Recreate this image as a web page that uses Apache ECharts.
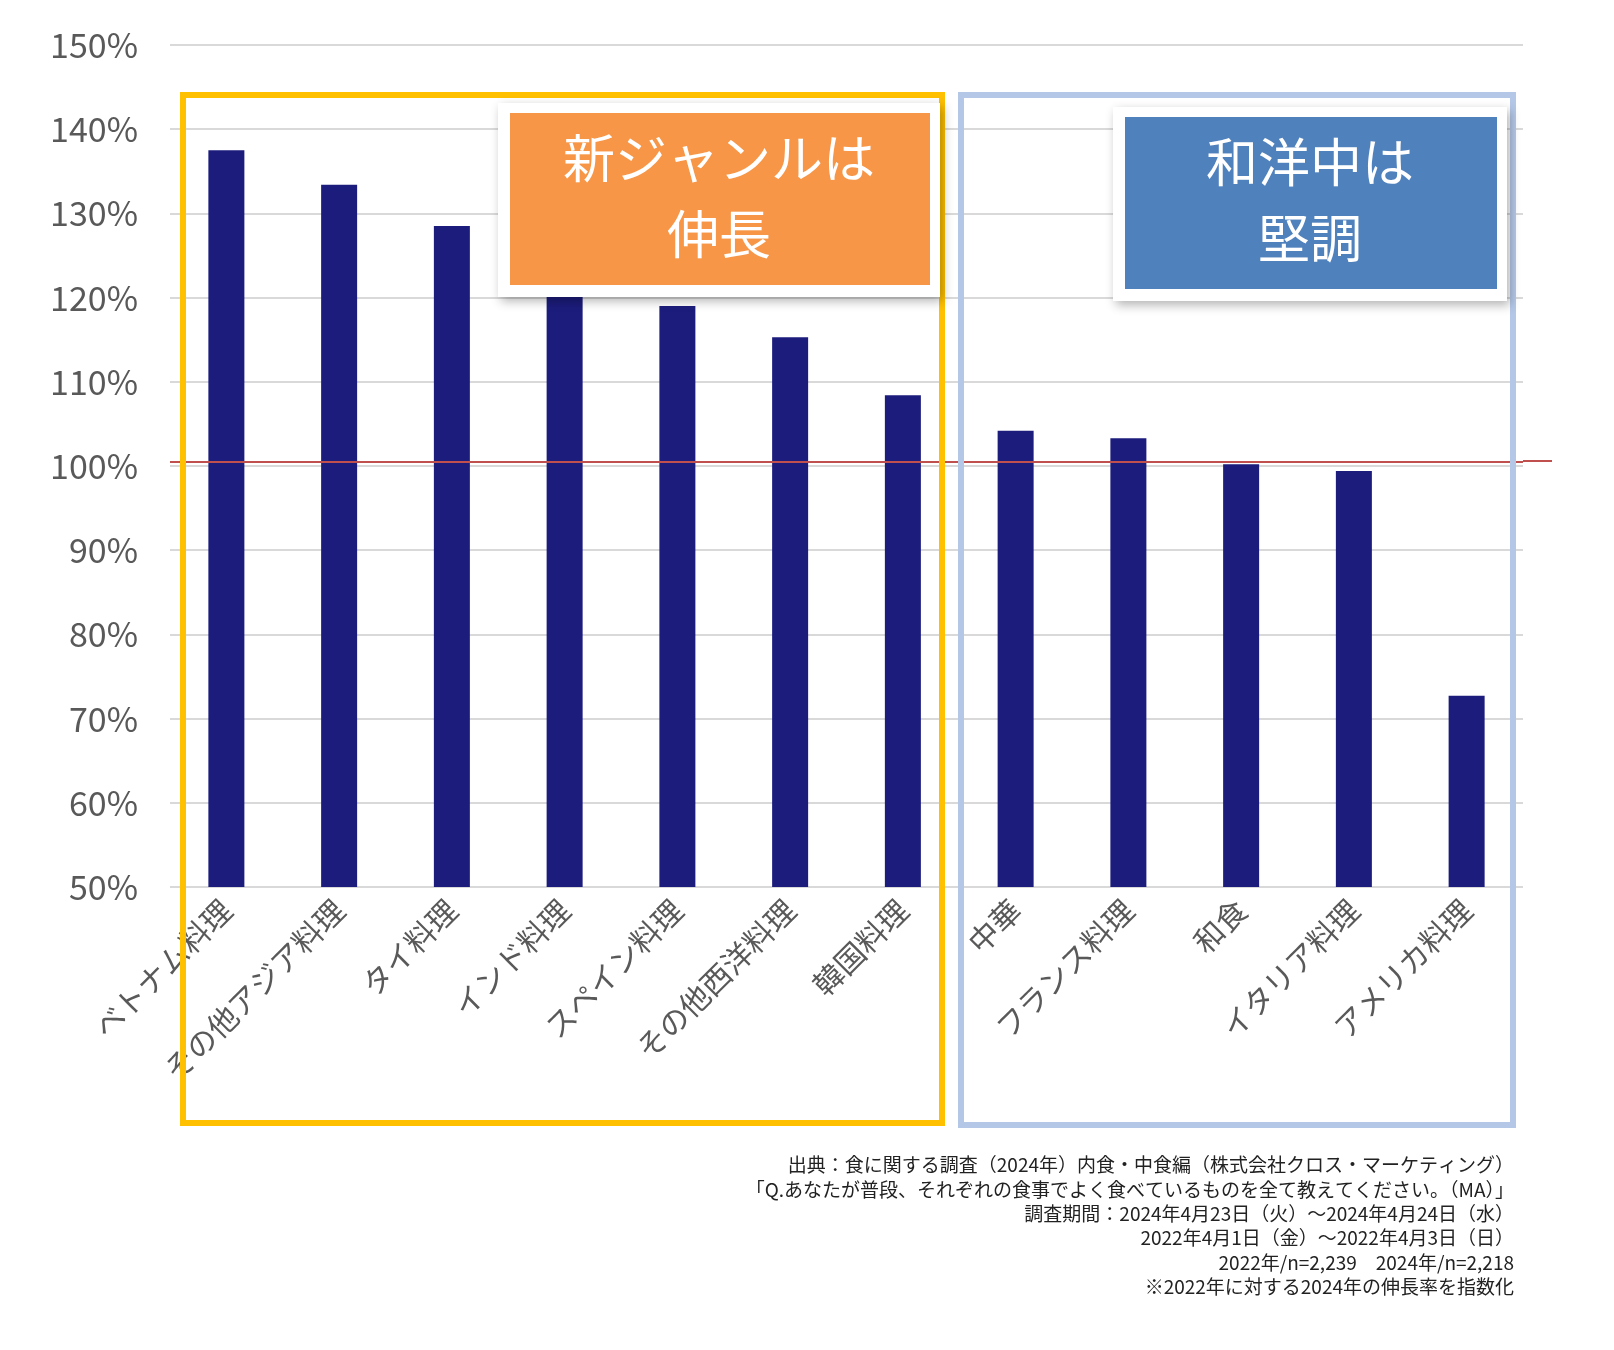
<!DOCTYPE html>
<html><head><meta charset="utf-8">
<script src="https://cdn.jsdelivr.net/npm/echarts@6/dist/echarts.min.js"></script>
<style>html,body{margin:0;background:#fff}#c{width:1614px;height:1350px}</style>
</head><body><div id="c"></div>
<script>
const categories = ['ベトナム料理','その他アジア料理','タイ料理','インド料理','スペイン料理','その他西洋料理','韓国料理','中華','フランス料理','和食','イタリア料理','アメリカ料理'];
const values = [137.5, 133.4, 128.5, 122.0, 119.0, 115.3, 108.4, 104.2, 103.3, 100.2, 99.4, 72.7];
const baseline = 100.5;
const notes = [
  '出典：食に関する調査（2024年）内食・中食編（株式会社クロス・マーケティング）',
  '「Q.あなたが普段、それぞれの食事でよく食べているものを全て教えてください。（MA）」',
  '調査期間：2024年4月23日（火）～2024年4月24日（水）',
  '2022年4月1日（金）～2022年4月3日（日）',
  '2022年/n=2,239　2024年/n=2,218',
  '※2022年に対する2024年の伸長率を指数化'
];
const font = '"Noto Sans CJK JP", "Noto Sans", sans-serif';
const chart = echarts.init(document.getElementById('c'));

function callout(x, y, w, h, color, lines) {
  return [
    {type: 'rect', z: 100, shape: {x: x, y: y, width: w, height: h},
      style: {fill: '#fff', shadowBlur: 10, shadowOffsetX: 3, shadowOffsetY: 4, shadowColor: 'rgba(0,0,0,0.3)'}},
    {type: 'rect', z: 101, shape: {x: x + 12, y: y + 10, width: w - 22, height: h - 22}, style: {fill: color}},
    {type: 'text', z: 102, x: x + w / 2, y: y + h / 2 - 4, style: {text: lines, fill: '#fff', font: '52px ' + font,
      align: 'center', verticalAlign: 'middle', lineHeight: 76}}
  ];
}

const noteItems = notes.map((t, i) => ({
  type: 'text', z: 10, x: 1514, y: 1165 + i * 24.4,
  style: {text: t, fill: '#222', font: '19px ' + font, align: 'right', verticalAlign: 'middle'}
}));

chart.setOption({
  animation: false,
  grid: {left: 170, right: 91, top: 45, bottom: 463},
  xAxis: {
    type: 'category', data: categories,
    axisLine: {show: false}, axisTick: {show: false},
    axisLabel: {rotate: 45, color: '#595959', fontSize: 30, fontFamily: font, margin: 18, interval: 0}
  },
  yAxis: {
    type: 'value', min: 50, max: 150, interval: 10,
    axisLabel: {formatter: '{value}%', color: '#595959', fontSize: 34, fontFamily: font, margin: 32},
    splitLine: {lineStyle: {color: '#d9d9d9', width: 2}}
  },
  series: [{
    type: 'bar', data: values, barWidth: 36,
    itemStyle: {color: '#1c1c7c'},
    markLine: {silent: true, symbol: 'none', label: {show: false},
      lineStyle: {color: '#c0504d', width: 2, type: 'solid'}, data: [{yAxis: baseline}]}
  }],
  graphic: [
    {type: 'rect', z: 50, shape: {x: 183, y: 95, width: 759, height: 1028},
      style: {fill: 'none', stroke: '#ffc000', lineWidth: 6}},
    {type: 'rect', z: 50, shape: {x: 961, y: 95, width: 552, height: 1030},
      style: {fill: 'none', stroke: '#b4c7e7', lineWidth: 6}},
    {type: 'line', z: 5, shape: {x1: 1523, y1: 461, x2: 1552, y2: 461},
      style: {stroke: '#c0504d', lineWidth: 2}},
    ...callout(498, 103, 442, 194, '#f79646', '新ジャンルは\n伸長'),
    ...callout(1113, 107, 394, 194, '#4f81bd', '和洋中は\n堅調'),
    ...noteItems
  ]
});
</script></body></html>
